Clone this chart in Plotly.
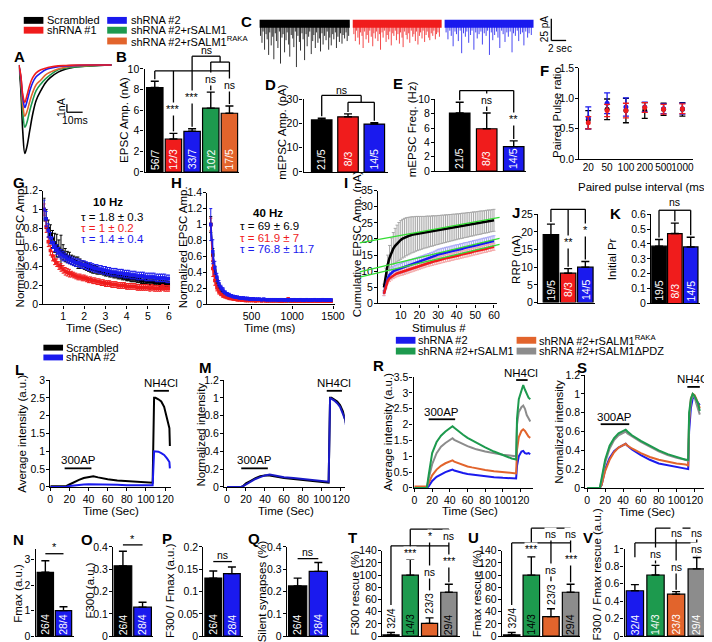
import plotly.graph_objects as go

W, H = 712, 642
FONT = "Liberation Sans, Arial, Helvetica, sans-serif"
BLACK = "#000000"; RED = "#f01c1c"; BLUE = "#1a1aee"; GREEN = "#1d9a4e"; ORANGE = "#e2642c"; GRAY = "#8c8c8c"

# ---------------- DATA ----------------
# A: averaged EPSC traces (ms, nA)
a_time = [0, 1.2, 2.5, 3.8, 5, 7, 8.8, 11, 14, 17, 20, 25, 30, 36, 45, 59]
a_scr = [0, -2.9, -8.5, -11.25, -10.5, -8.25, -6.25, -4.5, -3.25, -2.25, -1.6, -0.9, -0.5, -0.25, -0.1, 0]
a_green = [0, -2.0, -6.0, -7.9, -7.4, -5.75, -4.5, -3.25, -2.4, -1.75, -1.25, -0.6, -0.4, -0.25, -0.1, 0]
a_orange = [0, -1.6, -5.0, -6.5, -6.0, -4.6, -3.5, -2.5, -1.9, -1.25, -0.9, -0.5, -0.25, -0.1, -0.06, 0]
a_blue = [0, -1.4, -4.1, -5.4, -4.75, -3.25, -2.25, -1.5, -1.0, -0.6, -0.4, -0.2, -0.1, -0.06, 0, 0]
a_red = [0, -1.25, -3.75, -4.75, -4.0, -2.5, -1.6, -1.0, -0.6, -0.4, -0.25, -0.1, -0.06, 0, 0, 0]

# B: EPSC amplitude
b_vals = [8.2, 3.2, 3.95, 6.2, 5.7]
b_err = [0.6, 0.55, 0.25, 1.55, 0.7]
b_n = ["56/7", "12/3", "33/7", "10/2", "17/5"]

# C: mEPSC events (s, pA)
c_scr_t = [0.15, 0.35, 0.5, 0.7, 0.9, 1.05, 1.25, 1.4, 1.6, 1.8,
           1.95, 2.15, 2.3, 2.5, 2.7, 2.85, 3.05, 3.2, 3.4, 3.6,
           3.75, 3.95, 4.1, 4.3, 4.5, 4.65, 4.85, 5.0, 5.2, 5.4,
           5.55, 5.75, 5.9, 6.1, 6.3, 6.45, 6.65, 6.8, 7.0, 7.2,
           7.35, 7.55, 7.7, 7.9, 8.1, 8.25, 8.45, 8.6, 8.8, 9.0,
           9.15, 9.35, 9.5, 9.7, 9.9, 10.05, 10.25, 10.4, 10.6, 10.8,
           10.95, 11.15, 11.3, 11.5, 11.7, 11.85, 12.05]
c_scr_a = [-14, -22, -9, -30, -12, -18, -36, -10, -25, -15,
           -41, -11, -20, -28, -9, -46, -16, -12, -33, -19,
           -10, -24, -38, -13, -17, -27, -9, -50, -14, -21,
           -31, -11, -18, -42, -12, -26, -15, -9, -35, -20,
           -13, -28, -10, -22, -17, -32, -11, -24, -14, -19,
           -9, -30, -16, -25, -12, -18, -10, -28, -15, -21,
           -11, -23, -13, -17, -10, -20, -14]
c_sh1_t = [12.75, 12.95, 13.1, 13.3, 13.5, 13.65, 13.85, 14.0, 14.2, 14.4,
           14.55, 14.75, 14.9, 15.1, 15.3, 15.45, 15.65, 15.8, 16.0, 16.2,
           16.35, 16.55, 16.7, 16.9, 17.1, 17.25, 17.45, 17.6, 17.8, 18.0,
           18.15, 18.35, 18.5, 18.7, 18.9, 19.05, 19.25, 19.4, 19.6, 19.8,
           19.95, 20.15, 20.3, 20.5, 20.7, 20.85, 21.05, 21.2, 21.4, 21.6,
           21.75, 21.95, 22.1, 22.3, 22.5, 22.65, 22.85, 23.0, 23.2, 23.4,
           23.55, 23.75, 23.9, 24.1, 24.3]
c_sh1_a = [-12, -20, -8, -16, -24, -10, -14, -28, -9, -18,
           -13, -22, -8, -15, -26, -11, -17, -9, -20, -12,
           -30, -10, -16, -8, -21, -13, -18, -9, -25, -11,
           -14, -8, -19, -12, -23, -10, -16, -27, -9, -13,
           -18, -11, -22, -8, -15, -12, -20, -9, -24, -14,
           -10, -17, -8, -21, -13, -9, -16, -19, -11, -14,
           -8, -18, -12, -10, -15]
c_sh2_t = [25.2, 25.45, 25.7, 25.9, 26.15, 26.4, 26.6, 26.85, 27.1, 27.3,
           27.55, 27.8, 28.0, 28.25, 28.5, 28.7, 28.95, 29.2, 29.4, 29.65,
           29.9, 30.1, 30.35, 30.6, 30.8, 31.05, 31.3, 31.5, 31.75, 32.0,
           32.2, 32.45, 32.7, 32.9, 33.15, 33.4, 33.6, 33.85, 34.1, 34.3,
           34.55, 34.8, 35.0, 35.25, 35.5, 35.7, 35.95, 36.2, 36.4, 36.7]
c_sh2_a = [-10, -18, -8, -14, -26, -9, -12, -20, -8, -34,
           -11, -15, -9, -22, -13, -8, -30, -10, -17, -12,
           -9, -24, -11, -14, -8, -36, -10, -19, -13, -9,
           -16, -28, -8, -12, -21, -10, -15, -9, -33, -11,
           -14, -8, -20, -12, -10, -25, -9, -16, -11, -13]
c_spans = [[0.0, 12.2], [12.6, 24.6], [25.0, 37.0]]

# D, E: mEPSC
d_vals = [21.5, 22.8, 19.8]; d_err = [0.7, 1.2, 0.6]
e_vals = [8.1, 5.9, 3.4]; e_err = [1.5, 2.2, 0.8]
de_n = ["21/5", "8/3", "14/5"]

# F: paired pulse ratio
f_int = ["20", "50", "100", "200", "500", "1000"]
f_scr = [0.65, 0.82, 0.80, 0.80, 0.82, 0.82]; f_scr_err = [0.15, 0.17, 0.20, 0.13, 0.10, 0.11]
f_sh1 = [0.60, 0.80, 0.80, 0.85, 0.82, 0.83]; f_sh1_err = [0.10, 0.10, 0.12, 0.08, 0.08, 0.08]
f_sh2 = [0.68, 0.92, 0.86, 0.86, 0.83, 0.83]; f_sh2_err = [0.18, 0.17, 0.15, 0.08, 0.08, 0.09]

# G: 10 Hz train
g_time = [0.1, 0.2, 0.3, 0.4, 0.5, 0.6, 0.7, 0.8, 0.9, 1.0,
          1.1, 1.2, 1.3, 1.4, 1.5, 1.6, 1.7, 1.8, 1.9, 2.0,
          2.1, 2.2, 2.3, 2.4, 2.5, 2.6, 2.7, 2.8, 2.9, 3.0,
          3.1, 3.2, 3.3, 3.4, 3.5, 3.6, 3.7, 3.8, 3.9, 4.0,
          4.1, 4.2, 4.3, 4.4, 4.5, 4.6, 4.7, 4.8, 4.9, 5.0,
          5.1, 5.2, 5.3, 5.4, 5.5, 5.6, 5.7, 5.8, 5.9, 6.0]
g_scr = [1.00, 0.90, 0.80, 0.74, 0.69, 0.65, 0.62, 0.59, 0.57, 0.55,
         0.52, 0.50, 0.49, 0.47, 0.46, 0.45, 0.44, 0.43, 0.42, 0.41,
         0.40, 0.39, 0.38, 0.37, 0.37, 0.36, 0.35, 0.35, 0.34, 0.33,
         0.33, 0.32, 0.32, 0.31, 0.31, 0.30, 0.30, 0.29, 0.29, 0.28,
         0.28, 0.27, 0.27, 0.27, 0.26, 0.26, 0.25, 0.25, 0.25, 0.24,
         0.24, 0.24, 0.23, 0.23, 0.23, 0.22, 0.22, 0.22, 0.22, 0.21]
g_scr_err = [0.12, 0.10, 0.09, 0.10, 0.09, 0.10, 0.12, 0.09, 0.16, 0.08,
             0.07, 0.06, 0.06, 0.05, 0.05, 0.05, 0.06, 0.05, 0.04, 0.04,
             0.04, 0.04, 0.04, 0.04, 0.04, 0.04, 0.03, 0.03, 0.03, 0.03,
             0.03, 0.03, 0.03, 0.03, 0.03, 0.03, 0.03, 0.03, 0.03, 0.03,
             0.03, 0.03, 0.03, 0.03, 0.03, 0.03, 0.03, 0.03, 0.03, 0.03,
             0.03, 0.03, 0.03, 0.03, 0.03, 0.03, 0.03, 0.03, 0.03, 0.03]
g_sh1 = [1.00, 0.82, 0.66, 0.57, 0.51, 0.47, 0.44, 0.41, 0.39, 0.37,
         0.35, 0.34, 0.33, 0.32, 0.31, 0.30, 0.29, 0.29, 0.28, 0.28,
         0.27, 0.26, 0.26, 0.25, 0.25, 0.24, 0.24, 0.23, 0.23, 0.22,
         0.22, 0.22, 0.21, 0.21, 0.21, 0.20, 0.20, 0.20, 0.20, 0.19,
         0.19, 0.19, 0.19, 0.19, 0.18, 0.18, 0.18, 0.18, 0.18, 0.18,
         0.17, 0.18, 0.17, 0.17, 0.17, 0.17, 0.18, 0.17, 0.17, 0.17]
g_sh1_err = [0.06, 0.06, 0.05, 0.05, 0.05, 0.05, 0.04, 0.04, 0.04, 0.04,
             0.04, 0.04, 0.04, 0.03, 0.03, 0.03, 0.03, 0.03, 0.03, 0.03,
             0.03, 0.03, 0.03, 0.03, 0.03, 0.03, 0.03, 0.03, 0.03, 0.03,
             0.03, 0.03, 0.03, 0.03, 0.03, 0.03, 0.03, 0.03, 0.03, 0.03,
             0.03, 0.03, 0.03, 0.03, 0.03, 0.03, 0.03, 0.03, 0.03, 0.03,
             0.03, 0.03, 0.03, 0.03, 0.03, 0.03, 0.03, 0.03, 0.03, 0.03]
g_sh2 = [1.00, 0.90, 0.78, 0.70, 0.65, 0.61, 0.58, 0.55, 0.53, 0.51,
         0.50, 0.48, 0.47, 0.46, 0.45, 0.44, 0.44, 0.43, 0.42, 0.42,
         0.41, 0.40, 0.40, 0.39, 0.38, 0.38, 0.37, 0.37, 0.36, 0.36,
         0.35, 0.35, 0.34, 0.34, 0.34, 0.33, 0.33, 0.33, 0.32, 0.32,
         0.32, 0.31, 0.31, 0.31, 0.30, 0.30, 0.30, 0.30, 0.29, 0.29,
         0.29, 0.29, 0.29, 0.28, 0.28, 0.28, 0.28, 0.28, 0.27, 0.27]
g_sh2_err = [0.10, 0.08, 0.07, 0.06, 0.06, 0.05, 0.05, 0.05, 0.05, 0.05,
             0.04, 0.04, 0.04, 0.04, 0.04, 0.04, 0.04, 0.04, 0.04, 0.04,
             0.04, 0.04, 0.04, 0.04, 0.04, 0.04, 0.04, 0.04, 0.04, 0.04,
             0.04, 0.04, 0.04, 0.04, 0.04, 0.04, 0.04, 0.04, 0.04, 0.04,
             0.04, 0.04, 0.04, 0.04, 0.04, 0.04, 0.04, 0.04, 0.04, 0.04,
             0.04, 0.04, 0.04, 0.04, 0.04, 0.04, 0.04, 0.04, 0.04, 0.04]

# H: 40 Hz train
h_time = [0, 25, 50, 75, 100, 125, 150, 175, 200, 225,
          250, 275, 300, 325, 350, 375, 400, 425, 450, 475,
          500, 525, 550, 575, 600, 625, 650, 675, 700, 725,
          750, 775, 800, 825, 850, 875, 900, 925, 950, 975,
          1000, 1025, 1050, 1075, 1100, 1125, 1150, 1175, 1200, 1225,
          1250, 1275, 1300, 1325, 1350, 1375, 1400, 1425, 1450, 1475]
h_scr = [1.00, 0.62, 0.42, 0.30, 0.23, 0.18, 0.15, 0.13, 0.11, 0.10,
         0.09, 0.085, 0.08, 0.075, 0.07, 0.07, 0.065, 0.065, 0.06, 0.06,
         0.06, 0.06, 0.055, 0.06, 0.055, 0.055, 0.06, 0.055, 0.055, 0.05,
         0.055, 0.055, 0.05, 0.055, 0.05, 0.05, 0.055, 0.05, 0.05, 0.05,
         0.05, 0.055, 0.05, 0.05, 0.05, 0.05, 0.05, 0.05, 0.045, 0.05,
         0.05, 0.05, 0.045, 0.05, 0.05, 0.045, 0.05, 0.05, 0.045, 0.05]
h_sh1 = [1.00, 0.45, 0.30, 0.21, 0.16, 0.13, 0.11, 0.10, 0.09, 0.08,
         0.075, 0.07, 0.065, 0.06, 0.06, 0.055, 0.055, 0.05, 0.05, 0.05,
         0.05, 0.05, 0.045, 0.05, 0.05, 0.045, 0.05, 0.045, 0.045, 0.05,
         0.045, 0.045, 0.05, 0.045, 0.045, 0.04, 0.045, 0.045, 0.07, 0.045,
         0.045, 0.04, 0.045, 0.045, 0.04, 0.045, 0.04, 0.045, 0.04, 0.045,
         0.04, 0.045, 0.04, 0.04, 0.045, 0.04, 0.04, 0.045, 0.04, 0.04]
h_sh2 = [1.00, 0.66, 0.46, 0.34, 0.26, 0.21, 0.18, 0.15, 0.13, 0.12,
         0.11, 0.10, 0.095, 0.09, 0.085, 0.08, 0.08, 0.075, 0.075, 0.07,
         0.07, 0.07, 0.065, 0.065, 0.065, 0.06, 0.065, 0.06, 0.06, 0.06,
         0.06, 0.06, 0.06, 0.055, 0.06, 0.06, 0.055, 0.06, 0.055, 0.06,
         0.055, 0.06, 0.055, 0.055, 0.06, 0.055, 0.055, 0.06, 0.055, 0.055,
         0.055, 0.06, 0.055, 0.055, 0.055, 0.06, 0.055, 0.055, 0.055, 0.055]
h_err_scr = [0.10, 0.08, 0.06, 0.04, 0.03, 0.03, 0.02, 0.02, 0.02, 0.02] + [0.015] * 50
h_err_sh1 = [0.08, 0.10, 0.06, 0.04, 0.03, 0.02, 0.02, 0.02, 0.02, 0.02] + [0.015] * 50
h_err_sh2 = [0.20, 0.15, 0.08, 0.05, 0.04, 0.03, 0.03, 0.02, 0.02, 0.02] + [0.015] * 50

# I: cumulative EPSC
i_stim = list(range(1, 61))
i_scr = [5.0, 9.0, 12.0, 14.2, 15.8, 17.0, 17.9, 18.6, 19.2, 19.7,
         20.1, 20.4, 20.7, 20.9, 21.1, 21.3, 21.4, 21.6, 21.7, 21.8,
         21.9, 22.0, 22.1, 22.2, 22.3, 22.4, 22.5, 22.6, 22.7, 22.8,
         22.9, 23.0, 23.1, 23.2, 23.3, 23.4, 23.5, 23.6, 23.7, 23.8,
         23.9, 24.0, 24.1, 24.2, 24.3, 24.4, 24.5, 24.6, 24.7, 24.8,
         24.9, 25.0, 25.1, 25.2, 25.3, 25.4, 25.5, 25.6, 25.7, 25.8]
i_scr_err = [1.0, 2.0, 3.0, 3.8, 4.5, 5.0, 5.4, 5.7, 5.9, 6.0,
             6.0, 6.0, 5.9, 5.8, 5.7, 5.6, 5.5, 5.4, 5.3, 5.2,
             5.1, 5.0, 4.9, 4.9, 4.8, 4.7, 4.7, 4.6, 4.5, 4.5,
             4.4, 4.4, 4.3, 4.3, 4.2, 4.2, 4.1, 4.1, 4.0, 4.0,
             3.9, 3.9, 3.9, 3.8, 3.8, 3.8, 3.7, 3.7, 3.7, 3.6,
             3.6, 3.6, 3.6, 3.5, 3.5, 3.5, 3.5, 3.4, 3.4, 3.4]
i_sh1 = [3.0, 5.5, 7.0, 7.8, 8.3, 8.7, 9.0, 9.3, 9.5, 9.7,
         9.9, 10.1, 10.3, 10.5, 10.7, 10.9, 11.1, 11.3, 11.5, 11.7,
         11.9, 12.1, 12.3, 12.5, 12.6, 12.8, 12.9, 13.1, 13.2, 13.4,
         13.5, 13.7, 13.8, 14.0, 14.1, 14.2, 14.4, 14.5, 14.7, 14.8,
         14.9, 15.1, 15.2, 15.4, 15.5, 15.6, 15.8, 15.9, 16.1, 16.2,
         16.3, 16.5, 16.6, 16.8, 16.9, 17.0, 17.2, 17.3, 17.5, 17.6]
i_sh1_err = [0.5, 0.8, 0.9, 1.0, 1.0, 1.0, 1.0, 1.0, 1.0, 1.0] + [1.1] * 50
i_sh2 = [3.0, 6.0, 7.8, 8.9, 9.6, 10.0, 10.3, 10.5, 10.7, 10.9,
         11.1, 11.3, 11.5, 11.7, 11.9, 12.1, 12.3, 12.5, 12.7, 12.9,
         13.1, 13.3, 13.5, 13.7, 13.9, 14.1, 14.3, 14.6, 14.9, 15.2,
         15.3, 15.5, 15.6, 15.8, 15.9, 16.0, 16.2, 16.3, 16.5, 16.6,
         16.7, 16.9, 17.0, 17.2, 17.3, 17.4, 17.6, 17.7, 17.9, 18.0,
         18.1, 18.3, 18.4, 18.6, 18.7, 18.8, 19.0, 19.1, 19.3, 19.4]
i_sh2_err = [0.6, 1.0, 1.2, 1.3, 1.4, 1.4, 1.5, 1.5, 1.5, 1.5] + [1.6] * 50
i_fit_x = [-12, 63]
i_fit_scr = [18.8, 26.7]
i_fit_sh2 = [9.8, 20.2]
i_fit_sh1 = [8.2, 18.3]

# J, K
j_vals = [19.2, 8.3, 10.0]; j_err = [3.0, 1.3, 1.6]
k_vals = [0.385, 0.47, 0.38]; k_err = [0.045, 0.07, 0.065]
jk_n = ["19/5", "8/3", "14/5"]

# L, M: pHluorin traces
lm_time = [0, 5, 10, 15, 17, 20, 25, 30, 35, 40, 45, 50, 55, 60, 70, 80, 90, 100, 107, 108.5, 110, 113, 116, 119, 122, 124.5, 125]
l_scr = [0.02, 0.02, 0.02, 0.02, 0.03, 0.07, 0.14, 0.20, 0.25, 0.28, 0.30, 0.27, 0.24, 0.22, 0.18, 0.16, 0.14, 0.13, 0.12, 2.5, 2.5, 2.46, 2.4, 2.25, 1.95, 1.65, 1.15]
l_sh2 = [0, 0, 0, 0, 0.01, 0.03, 0.05, 0.06, 0.07, 0.08, 0.08, 0.07, 0.07, 0.06, 0.06, 0.05, 0.05, 0.05, 0.05, 1.0, 1.0, 0.99, 0.95, 0.9, 0.8, 0.7, 0.52]
m_scr = [0, 0, 0, 0, 0.01, 0.04, 0.07, 0.10, 0.12, 0.13, 0.13, 0.12, 0.11, 0.10, 0.09, 0.08, 0.07, 0.06, 0.05, 1.0, 1.0, 0.98, 0.96, 0.92, 0.85, 0.75, 0.72]
m_sh2 = [0, 0, 0, 0, 0.01, 0.03, 0.06, 0.09, 0.11, 0.13, 0.14, 0.13, 0.12, 0.11, 0.10, 0.09, 0.08, 0.07, 0.06, 1.0, 0.99, 0.97, 0.94, 0.9, 0.82, 0.75, 0.70]

# R, S
r_time = [0, 5, 10, 14, 16, 18, 20, 25, 30, 35, 40, 43, 45, 50, 55, 60, 65, 70, 80, 90, 100, 110, 115, 116, 118, 121, 123, 125, 127, 129, 131]
r_green = [0, 0, 0, 0, 0.4, 0.8, 1.1, 1.45, 1.65, 1.78, 1.88, 1.95, 1.9, 1.78, 1.68, 1.58, 1.5, 1.42, 1.28, 1.15, 1.03, 0.93, 0.9, 2.2, 2.8, 3.05, 3.25, 3.1, 2.95, 2.85, 2.8]
r_gray = [0, 0, 0, 0, 0.3, 0.5, 0.75, 1.1, 1.3, 1.42, 1.52, 1.57, 1.52, 1.45, 1.38, 1.32, 1.27, 1.22, 1.15, 1.09, 1.05, 1.02, 1.0, 2.0, 2.4, 2.55, 2.6, 2.5, 2.3, 2.2, 2.1]
r_orange = [0.05, 0.05, 0.05, 0.05, 0.15, 0.3, 0.4, 0.58, 0.7, 0.78, 0.85, 0.87, 0.83, 0.78, 0.72, 0.68, 0.65, 0.62, 0.57, 0.53, 0.5, 0.47, 0.46, 1.2, 1.6, 1.8, 1.85, 1.8, 1.7, 1.62, 1.58]
r_blue = [0, 0, 0, 0, 0.05, 0.15, 0.22, 0.35, 0.43, 0.5, 0.55, 0.58, 0.55, 0.5, 0.47, 0.44, 0.42, 0.4, 0.37, 0.34, 0.32, 0.3, 0.3, 0.7, 1.0, 1.15, 1.17, 1.1, 1.08, 1.1, 1.07]
s_time = [0, 5, 10, 14, 16, 18, 20, 25, 30, 35, 40, 43, 45, 50, 60, 70, 80, 90, 100, 110, 113, 114, 116, 118, 120, 122, 124, 126]
s_green = [0, 0, 0, 0, 0.1, 0.2, 0.3, 0.45, 0.53, 0.58, 0.61, 0.62, 0.6, 0.56, 0.5, 0.45, 0.4, 0.36, 0.33, 0.3, 0.3, 0.8, 0.95, 1.0, 0.98, 0.93, 0.9, 0.82]
s_gray = [0, 0, 0, 0, 0.08, 0.17, 0.27, 0.42, 0.51, 0.56, 0.59, 0.6, 0.58, 0.55, 0.49, 0.44, 0.39, 0.35, 0.32, 0.3, 0.29, 0.75, 0.92, 0.98, 0.97, 0.9, 0.85, 0.78]
s_orange = [0, 0, 0, 0, 0.03, 0.1, 0.18, 0.3, 0.38, 0.43, 0.46, 0.47, 0.45, 0.42, 0.37, 0.33, 0.3, 0.28, 0.26, 0.25, 0.24, 0.7, 0.95, 1.0, 0.99, 0.95, 0.9, 0.85]
s_blue = [0, 0, 0, 0, 0.03, 0.1, 0.2, 0.32, 0.39, 0.43, 0.46, 0.47, 0.45, 0.41, 0.35, 0.3, 0.26, 0.24, 0.22, 0.2, 0.2, 0.6, 0.85, 0.95, 0.97, 0.93, 0.9, 0.88]

# N-Q
n_vals = [2.5, 1.0]; n_err = [0.45, 0.15]
o_vals = [0.315, 0.13]; o_err = [0.065, 0.022]
p_vals = [0.13, 0.14]; p_err = [0.016, 0.015]
q_vals = [0.225, 0.29]; q_err = [0.035, 0.04]
nq_n = ["26/4", "28/4"]

# T-V
t_vals = [2, 100, 21, 72]; t_err = [4, 26, 9, 13]
u_vals = [2, 100, 32, 72]; u_err = [4, 30, 13, 13]
v_vals = [0.52, 0.70, 0.48, 0.77]; v_err = [0.07, 0.11, 0.03, 0.13]
tv_n = ["32/4", "14/3", "23/3", "29/4"]

# ---------------- FIGURE HELPERS ----------------
fig = go.Figure()
LAY = {}
SHAPES = []
ANN = []
TICK = 10.5
AX = dict(showgrid=False, zeroline=False, showline=True, linecolor="black", linewidth=1.3,
          ticks="outside", ticklen=3, tickwidth=1.3, tickcolor="black", ticklabelstandoff=-1,
          tickfont=dict(size=TICK, color="black", family=FONT), fixedrange=True)
BARX = dict(ticks="", showticklabels=False)


class Panel:
    count = 0

    def __init__(self, l, r, t, b, xr, yr, xo=None, yo=None, hidden=False):
        Panel.count += 1
        i = Panel.count
        s = "" if i == 1 else str(i)
        self.xa, self.ya = "x" + s, "y" + s
        self.l, self.r, self.t, self.b, self.xr, self.yr = l, r, t, b, xr, yr
        xa = dict(AX, domain=[l / W, r / W], range=xr, anchor=self.ya, tickangle=0)
        ya = dict(AX, domain=[1 - b / H, 1 - t / H], range=yr, anchor=self.xa)
        if xo:
            xa.update(xo)
        if yo:
            ya.update(yo)
        if hidden:
            xa["visible"] = False
            ya["visible"] = False
        LAY["xaxis" + s] = xa
        LAY["yaxis" + s] = ya

    def px(self, v):
        return self.l + (v - self.xr[0]) / (self.xr[1] - self.xr[0]) * (self.r - self.l)

    def py(self, v):
        return self.b - (v - self.yr[0]) / (self.yr[1] - self.yr[0]) * (self.b - self.t)


def line(x0, y0, x1, y1, w=1.3, color="black"):
    SHAPES.append(dict(type="line", xref="paper", yref="paper", x0=x0 / W, y0=1 - y0 / H,
                       x1=x1 / W, y1=1 - y1 / H, line=dict(color=color, width=w)))


def rect(x0, y0, x1, y1, color):
    SHAPES.append(dict(type="rect", xref="paper", yref="paper", x0=x0 / W, y0=1 - y0 / H,
                       x1=x1 / W, y1=1 - y1 / H, fillcolor=color, line=dict(width=0)))


def text(x, y, s, size=11, color="black", angle=0, bold=False, xanchor="center", bg=None):
    if bold:
        s = "<b>" + s + "</b>"
    ANN.append(dict(xref="paper", yref="paper", x=x / W, y=1 - y / H, text=s, showarrow=False,
                    font=dict(size=size, color=color, family=FONT), textangle=angle,
                    xanchor=xanchor, yanchor="middle", bgcolor=bg if bg else "rgba(0,0,0,0)",
                    borderpad=0))


def bars(p, vals, errs, colors, width):
    fig.add_trace(go.Bar(x=list(range(len(vals))), y=vals, width=width,
                         marker=dict(color=colors, line=dict(color="black", width=1.2)),
                         error_y=dict(type="data", array=errs, arrayminus=[0] * len(errs), symmetric=False,
                                      color="black", thickness=1.4, width=4),
                         xaxis=p.xa, yaxis=p.ya, showlegend=False, hoverinfo="skip"))


def nlabels(p, labels, colors, offset=13, size=10.5):
    for i, (lab, c) in enumerate(zip(labels, colors)):
        text(p.px(i), p.py(0) - offset, lab, size=size, color=c, angle=-90)


def etop(p, vals, errs, i):
    return p.py(vals[i] + errs[i])


def sc(p, x, y, color, width=2, mode="lines", **kw):
    fig.add_trace(go.Scatter(x=x, y=y, mode=mode, line=dict(color=color, width=width),
                             xaxis=p.xa, yaxis=p.ya, showlegend=False, hoverinfo="skip", **kw))


def ticks_y(vals, texts=None):
    d = dict(tickmode="array", tickvals=vals)
    if texts:
        d["ticktext"] = texts
    return d


# ---------------- A ----------------
pA = Panel(8, 104, 45, 145, [0, 60], [-11.6, 0.875], hidden=True)
for ys, c in [(a_scr, BLACK), (a_green, GREEN), (a_orange, ORANGE), (a_blue, BLUE), (a_red, RED)]:
    fig.add_trace(go.Scatter(x=a_time, y=ys, mode="lines", line=dict(color=c, width=1.6, shape="spline"),
                             xaxis=pA.xa, yaxis=pA.ya, showlegend=False, hoverinfo="skip"))
line(pA.px(30.6), pA.py(-5), pA.px(30.6), pA.py(-6))
line(pA.px(30.6), pA.py(-6), pA.px(40.6), pA.py(-6))
text(pA.px(26.5), pA.py(-5.4), "1nA", size=10.5, angle=-90)
text(pA.px(35.6), pA.py(-7.0), "10ms", size=10.5)

# ---------------- B ----------------
pB = Panel(136, 232, 56, 161, [-0.55, 4.5], [0, 10], xo=BARX, yo=ticks_y([0, 2, 4, 6, 8, 10]))
B_COL = [BLACK, RED, BLUE, GREEN, ORANGE]
bars(pB, b_vals, b_err, B_COL, 0.88)
nlabels(pB, b_n, ["white"] * 5)
cx = [pB.px(i) for i in range(5)]
line(cx[0], 58, cx[4], 58)
line(cx[0], 58, cx[0], etop(pB, b_vals, b_err, 0) - 2)
line(cx[1], 58, cx[1], etop(pB, b_vals, b_err, 1) - 2)
line(cx[2], 43, cx[2], etop(pB, b_vals, b_err, 2) - 2)
line(cx[3], 49, cx[4], 49)
line(cx[3], 49, cx[3], etop(pB, b_vals, b_err, 3) - 2)
line(cx[4], 49, cx[4], etop(pB, b_vals, b_err, 4) - 2)
mid = (cx[3] + cx[4]) / 2
line(mid, 43, mid, 49)
line(cx[2], 43, mid, 43)
text((cx[2] + mid) / 2, 37, "ns", size=10.5)
text(cx[1], 97, "***", size=11, bg="white")
text(cx[2], 85, "***", size=11, bg="white")
text(cx[3], 66, "ns", size=10.5, bg="white")
text(cx[4], 72, "ns", size=10.5, bg="white")

# ---------------- C ----------------
pC = Panel(253, 533, 2, 62, [0, 37.1], [-59, 9], hidden=True)
for (t, a), span, c in [((c_scr_t, c_scr_a), c_spans[0], BLACK), ((c_sh1_t, c_sh1_a), c_spans[1], RED),
                        ((c_sh2_t, c_sh2_a), c_spans[2], BLUE)]:
    xs, ys = [], []
    for ti, ai in zip(t, a):
        xs += [ti, ti, None]
        ys += [0, ai, None]
    sc(pC, xs, ys, c, width=0.8)
    sc(pC, span, [0, 0], c, width=8)
sbx = pC.px(39.4)
line(sbx, pC.py(5.7), sbx, pC.py(-19.3))
line(sbx, pC.py(-19.3), pC.px(41.4), pC.py(-19.3))
text(sbx - 7, 15, "25 pA", size=10, angle=-90)
text(sbx + 9, 35, "2 sec", size=10)

# ---------------- D ----------------
pD = Panel(298, 384, 87, 161, [-0.69, 2.52], [0, 30], xo=BARX, yo=ticks_y([0, 10, 20, 30]))
bars(pD, d_vals, d_err, [BLACK, RED, BLUE], 0.78)
nlabels(pD, de_n, ["white"] * 3)
dx = [pD.px(i) for i in range(3)]
dm = (dx[1] + dx[2]) / 2
line(dx[0], 83, dm, 83)
line(dx[0], 83, dx[0], etop(pD, d_vals, d_err, 0) - 2)
line(dm, 83, dm, 90)
line(dx[1], 90, dx[2], 90)
line(dx[1], 90, dx[1], etop(pD, d_vals, d_err, 1) - 2)
line(dx[2], 90, dx[2], etop(pD, d_vals, d_err, 2) - 2)
text((dx[0] + dm) / 2, 77, "ns", size=10.5)

# ---------------- E ----------------
pE = Panel(432, 525, 87, 160, [-0.91, 2.47], [0, 10], xo=BARX, yo=ticks_y([0, 2, 4, 6, 8, 10]))
bars(pE, e_vals, e_err, [BLACK, RED, BLUE], 0.76)
nlabels(pE, de_n, ["white"] * 3)
ex = [pE.px(i) for i in range(3)]
line(ex[0], 78, ex[2], 78)
for i in range(3):
    line(ex[i], 78, ex[i], etop(pE, e_vals, e_err, i) - 2)
text(ex[1], 88, "ns", size=10.5, bg="white")
text(ex[2], 107, "**", size=11, bg="white")

# ---------------- F ----------------
pF = Panel(579, 695, 55, 148, [-0.47, 5.58], [0, 1.5],
           xo=dict(ticks="", tickmode="array", tickvals=list(range(6)), ticktext=f_int,
                   tickfont=dict(size=10, color="black", family=FONT)),
           yo=ticks_y([0, 0.5, 1.0, 1.5], ["0.0", "0.5", "1.0", "1.5"]))
for ys, es, c in [(f_scr, f_scr_err, BLACK), (f_sh2, f_sh2_err, BLUE), (f_sh1, f_sh1_err, RED)]:
    fig.add_trace(go.Scatter(x=list(range(6)), y=ys, mode="markers", marker=dict(color=c, size=5),
                             error_y=dict(type="data", array=es, color=c, thickness=1.3, width=3),
                             xaxis=pF.xa, yaxis=pF.ya, showlegend=False, hoverinfo="skip"))

# ---------------- G ----------------
pG = Panel(33, 162, 180, 296, [0.07, 6.05], [0, 1.2],
           xo=ticks_y([1, 2, 3, 4, 5, 6]),
           yo=ticks_y([0, 0.2, 0.4, 0.6, 0.8, 1.0, 1.2], ["0", "0.2", "0.4", "0.6", "0.8", "1", "1.2"]))
for ys, es, c in [(g_scr, g_scr_err, BLACK), (g_sh1, g_sh1_err, RED), (g_sh2, g_sh2_err, BLUE)]:
    fig.add_trace(go.Scatter(x=g_time, y=ys, mode="markers", marker=dict(color=c, size=3.5, symbol="square"),
                             error_y=dict(type="data", array=es, color=c, thickness=1, width=1.5),
                             xaxis=pG.xa, yaxis=pG.ya, showlegend=False, hoverinfo="skip"))
text(99, 192, "10 Hz", size=11.5, bold=True)
text(70, 207, "τ = 1.8 ± 0.3", size=11.5, color=BLACK, xanchor="left")
text(70, 218, "τ = 1 ± 0.2", size=11.5, color=RED, xanchor="left")
text(70, 229, "τ = 1.4 ± 0.4", size=11.5, color=BLUE, xanchor="left")

# ---------------- H ----------------
pH = Panel(200, 330, 182, 296, [-42, 1524], [0, 1.4],
           xo=ticks_y([500, 1000, 1500]),
           yo=ticks_y([0, 0.2, 0.4, 0.6, 0.8, 1.0, 1.2, 1.4], ["0", "0.2", "0.4", "0.6", "0.8", "1", "1.2", "1.4"]))
for ys, es, c in [(h_scr, h_err_scr, BLACK), (h_sh1, h_err_sh1, RED), (h_sh2, h_err_sh2, BLUE)]:
    fig.add_trace(go.Scatter(x=h_time, y=ys, mode="lines+markers", line=dict(color=c, width=1.5),
                             marker=dict(color=c, size=3.5, symbol="square"),
                             error_y=dict(type="data", array=es, color=c, thickness=1, width=1.5),
                             xaxis=pH.xa, yaxis=pH.ya, showlegend=False, hoverinfo="skip"))
text(262, 203, "40 Hz", size=11.5, bold=True)
text(232, 216, "τ = 69 ± 6.9", size=11.5, color=BLACK, xanchor="left")
text(232, 228, "τ = 61.9 ± 7", size=11.5, color=RED, xanchor="left")
text(232, 239, "τ = 76.8 ± 11.7", size=11.5, color=BLUE, xanchor="left")

# ---------------- I ----------------
pI = Panel(374, 495, 180, 295, [-2.1, 61.6], [0, 35],
           xo=ticks_y([10, 20, 30, 40, 50, 60]), yo=ticks_y([0, 5, 10, 15, 20, 25, 30, 35]))
for ys, es, c, ec in [(i_scr, i_scr_err, BLACK, "#a8a8a8"), (i_sh2, i_sh2_err, BLUE, "#a8a8f4"),
                      (i_sh1, i_sh1_err, RED, "#f4a8a8")]:
    fig.add_trace(go.Scatter(x=i_stim, y=ys, mode="markers", marker=dict(color=ec, size=1),
                             error_y=dict(type="data", array=es, color=ec, thickness=1, width=1.5),
                             xaxis=pI.xa, yaxis=pI.ya, showlegend=False, hoverinfo="skip"))
for ys, c in [(i_scr, BLACK), (i_sh2, BLUE), (i_sh1, RED)]:
    sc(pI, i_stim, ys, c, width=2.5)
for fy in [i_fit_scr, i_fit_sh2, i_fit_sh1]:
    line(pI.px(i_fit_x[0]), pI.py(fy[0]), pI.px(i_fit_x[1]), pI.py(fy[1]), w=1.3, color="#33dd33")

# ---------------- J ----------------
pJ = Panel(537, 595, 204, 294, [-0.74, 2.57], [0, 25], xo=BARX, yo=ticks_y([0, 5, 10, 15, 20, 25]))
bars(pJ, j_vals, j_err, [BLACK, RED, BLUE], 0.9)
nlabels(pJ, jk_n, ["white"] * 3)
jx = [pJ.px(i) for i in range(3)]
line(jx[0], 199, jx[2], 199)
for i in range(3):
    line(jx[i], 199, jx[i], etop(pJ, j_vals, j_err, i) - 2)
text(jx[1], 232, "**", size=11, bg="white")
text(jx[2], 220, "*", size=11, bg="white")

# ---------------- K ----------------
pK = Panel(652, 702, 204, 295, [-0.5, 2.6], [0, 0.6], xo=BARX,
           yo=ticks_y([0, 0.1, 0.2, 0.3, 0.4, 0.5, 0.6], ["0", "0.1", "0.2", "0.3", "0.4", "0.5", "0.6"]))
bars(pK, k_vals, k_err, [BLACK, RED, BLUE], 0.92)
nlabels(pK, jk_n, ["white"] * 3)
kx = [pK.px(i) for i in range(3)]
line(kx[0], 200, kx[2], 200)
for i in range(3):
    line(kx[i], 200, kx[i], etop(pK, k_vals, k_err, i) - 2)
text(kx[1], 192, "ns", size=10.5)

# ---------------- L ----------------
XT = ticks_y([0, 20, 40, 60, 80, 100, 120])
pL = Panel(40, 163, 373, 482, [0, 126.2], [0, 3], xo=XT,
           yo=ticks_y([0, 0.5, 1, 1.5, 2, 2.5, 3], ["0", "0.5", "1", "1.5", "2", "2.5", "3"]))
sc(pL, lm_time, l_scr, BLACK, width=2)
sc(pL, lm_time, l_sh2, BLUE, width=2)
line(pL.px(15), 463, pL.px(43), 463, w=1.8)
text(pL.px(29), 455, "300AP", size=11.5)
line(pL.px(108), 384, pL.px(124), 384, w=1.8)
text(pL.px(116), 376, "NH4Cl", size=11.5)

# ---------------- M ----------------
pM = Panel(217, 340, 373, 482, [-3.1, 124], [0, 1.2], xo=XT,
           yo=ticks_y([0, 0.2, 0.4, 0.6, 0.8, 1.0, 1.2], ["0", "0.2", "0.4", "0.6", "0.8", "1", "1.2"]))
sc(pM, lm_time, m_scr, BLACK, width=2)
sc(pM, lm_time, m_sh2, "#1a1ac8", width=2)
line(pM.px(15), 463, pM.px(43), 463, w=1.8)
text(pM.px(29), 455, "300AP", size=11.5)
line(pM.px(105), 384, pM.px(121), 384, w=1.8)
text(pM.px(113), 376, "NH4Cl", size=11.5)

# ---------------- R ----------------
pR = Panel(410, 532, 370, 483, [-1.1, 134.4], [0, 3.5], xo=XT,
           yo=ticks_y([0, 0.5, 1, 1.5, 2, 2.5, 3, 3.5], ["0", "0.5", "1", "1.5", "2", "2.5", "3", "3.5"]))
for ys, c in [(r_blue, BLUE), (r_orange, ORANGE), (r_gray, GRAY), (r_green, GREEN)]:
    sc(pR, r_time, ys, c, width=2)
line(pR.px(16), 413, pR.px(46), 413, w=1.8)
text(pR.px(31), 406, "300AP", size=11.5)
line(pR.px(115), 373, pR.px(128), 373, w=1.8)
text(pR.px(121), 366, "NH4Cl", size=11.5)

# ---------------- S ----------------
pS = Panel(585, 706, 368, 483, [-2.2, 130.8], [0, 1.2], xo=XT,
           yo=ticks_y([0, 0.2, 0.4, 0.6, 0.8, 1.0, 1.2], ["0", "0.2", "0.4", "0.6", "0.8", "1", "1.2"]))
for ys, c in [(s_blue, BLUE), (s_orange, ORANGE), (s_gray, GRAY), (s_green, GREEN)]:
    sc(pS, s_time, ys, c, width=2)
line(pS.px(15), 418, pS.px(47), 418, w=1.8)
text(pS.px(31), 411, "300AP", size=11.5)
line(pS.px(112), 380, pS.px(126), 380, w=1.8)
text(pS.px(119), 372, "NH4Cl", size=11.5)

# ---------------- N-Q ----------------
pN = Panel(25, 64, 545, 634, [-0.54, 1.57], [0, 3.42], xo=BARX, yo=ticks_y([0, 1, 2, 3]))
bars(pN, n_vals, n_err, [BLACK, BLUE], 0.9)
nlabels(pN, nq_n, ["white"] * 2, offset=12)
line(pN.px(0), 550, pN.px(1), 550)
text((pN.px(0) + pN.px(1)) / 2, 543, "*", size=11)

pO = Panel(104, 145, 543, 634, [-0.5, 1.55], [0, 0.4], xo=BARX,
           yo=ticks_y([0, 0.1, 0.2, 0.3, 0.4], ["0", "0.1", "0.2", "0.3", "0.4"]))
bars(pO, o_vals, o_err, [BLACK, BLUE], 0.9)
nlabels(pO, nq_n, ["white"] * 2, offset=12)
line(pO.px(0), 541, pO.px(1), 541)
text((pO.px(0) + pO.px(1)) / 2, 535, "*", size=11)

pP = Panel(196, 236, 543, 634, [-0.53, 1.58], [0, 0.2], xo=BARX,
           yo=ticks_y([0, 0.05, 0.1, 0.15, 0.2], ["0", "0.05", "0.1", "0.15", "0.2"]))
bars(pP, p_vals, p_err, [BLACK, BLUE], 0.9)
nlabels(pP, nq_n, ["white"] * 2, offset=12)
line(pP.px(0), 558, pP.px(1), 558)
text((pP.px(0) + pP.px(1)) / 2, 551, "ns", size=10.5)

pQ = Panel(281, 324, 543, 634, [-0.52, 1.52], [0, 0.4], xo=BARX,
           yo=ticks_y([0, 0.1, 0.2, 0.3, 0.4], ["0", "0.1", "0.2", "0.3", "0.4"]))
bars(pQ, q_vals, q_err, [BLACK, BLUE], 0.88)
nlabels(pQ, nq_n, ["white"] * 2, offset=12)
line(pQ.px(0), 555, pQ.px(1), 555)
text((pQ.px(0) + pQ.px(1)) / 2, 548, "ns", size=10.5)

# ---------------- T, U, V ----------------
TV_COL = [BLUE, GREEN, ORANGE, GRAY]
PCT = ticks_y([0, 20, 40, 60, 80, 100, 120, 140])


def rescue_panel(p, vals, errs, sig_main, sig_top, lab_pos, lab_col):
    bars(p, vals, errs, TV_COL, 0.84)
    xs = [p.px(i) for i in range(4)]
    tops = [etop(p, vals, errs, i) for i in range(4)]
    for i in range(4):
        if lab_pos[i] == "in":
            text(xs[i], p.py(0) - 12, tv_n[i], size=10.5, color=lab_col[i], angle=-90)
        else:
            text(xs[i], tops[i] - 15, tv_n[i], size=10.5, color=lab_col[i], angle=-90)
    y1, y2 = sig_main[0], sig_top[0]
    line(xs[0], y1, xs[3], y1)
    line(xs[1], y2, xs[3], y2)
    line(xs[1], y2, xs[1], y1)
    for i in range(4):
        ystart = y2 if i >= 2 else y1
        yend = tops[i] - 2 if lab_pos[i] == "in" else tops[i] - 28
        if i == 0:
            yend = tops[i] - 28
        line(xs[i], ystart, xs[i], yend)
    for i, (s, yy) in enumerate(sig_main[1]):
        if s:
            text(xs[i], yy, s, size=10.5, bg="white")
    for i, (s, yy) in enumerate(sig_top[1]):
        if s:
            text(xs[i], yy, s, size=10.5, bg="white")


pT = Panel(378, 457, 547, 634, [-0.46, 3.56], [0, 140], xo=BARX, yo=PCT)
rescue_panel(pT, t_vals, t_err,
             (542, [(None, 0), ("***", 549), ("ns", 569), ("***", 557)]),
             (525, [(None, 0), (None, 0), ("*", 532), ("ns", 532)]),
             ["out", "in", "out", "in"], [BLACK, BLACK, BLACK, BLACK])

pU = Panel(500, 580, 547, 634, [-0.5, 3.5], [0, 140], xo=BARX, yo=PCT)
rescue_panel(pU, u_vals, u_err,
             (539, [(None, 0), ("***", 545), ("ns", 567), ("***", 555)]),
             (524, [(None, 0), (None, 0), ("ns", 530), ("ns", 530)]),
             ["out", "in", "out", "in"], [BLACK, BLACK, BLACK, BLACK])

pV = Panel(625, 709, 545, 634, [-0.5, 3.5], [0, 1.0], xo=BARX,
           yo=ticks_y([0, 0.2, 0.4, 0.6, 0.8, 1.0], ["0", "0.2", "0.4", "0.6", "0.8", "1"]))
rescue_panel(pV, v_vals, v_err,
             (539, [(None, 0), ("ns", 550), ("ns", 564), ("ns", 545)]),
             (524, [(None, 0), (None, 0), ("ns", 529), ("ns", 529)]),
             ["in", "in", "in", "in"], ["white", "white", "white", "white"])

# ---------------- LEGENDS ----------------
LEG = 11
rect(13, 3, 33, 10, BLACK); text(36, 6.5, "Scrambled", size=LEG, xanchor="left")
rect(13, 13, 33, 20, RED); text(36, 16.5, "shRNA #1", size=LEG, xanchor="left")
rect(98, 3, 118, 10, BLUE); text(121, 6.5, "shRNA #2", size=LEG, xanchor="left")
rect(98, 13, 118, 20, GREEN); text(121, 16.5, "shRNA #2+rSALM1", size=LEG, xanchor="left")
rect(98, 24, 118, 31, ORANGE); text(121, 27.5, "shRNA #2+rSALM1<sup>RAKA</sup>", size=LEG, xanchor="left")

rect(33, 337, 53, 343, BLACK); text(55, 340, "Scrambled", size=LEG, xanchor="left")
rect(33, 347, 53, 353, BLUE); text(55, 350, "shRNA #2", size=LEG, xanchor="left")

rect(392, 329, 412, 336, BLUE); text(414, 332, "shRNA #2", size=LEG, xanchor="left")
rect(392, 340, 412, 347, GREEN); text(414, 343, "shRNA #2+rSALM1", size=LEG, xanchor="left")
rect(515, 329, 535, 336, ORANGE); text(537, 332, "shRNA #2+rSALM1<sup>RAKA</sup>", size=LEG, xanchor="left")
rect(515, 340, 535, 347, GRAY); text(537, 343, "shRNA #2+rSALM1ΔPDZ", size=LEG, xanchor="left")

# ---------------- PANEL LETTERS ----------------
for lt, x, y in [("A", 9, 43), ("B", 113, 43), ("C", 240, 8), ("D", 264, 72), ("E", 394, 71),
                 ("F", 543, 58), ("G", 8, 172), ("H", 169, 172), ("I", 341, 172), ("J", 514, 202),
                 ("K", 616, 203), ("L", 9, 362), ("M", 198, 360), ("R", 374, 358), ("S", 582, 360),
                 ("N", 8, 535), ("O", 77, 535), ("P", 159, 534), ("Q", 248, 534), ("T", 348, 533),
                 ("U", 471, 533), ("V", 588, 533)]:
    text(x, y, lt, size=15, bold=True)

# ---------------- AXIS TITLES ----------------
TT = 11.5
for s, x, y in [("EPSC Amp. (nA)", 115, 108), ("mEPSC Amp. (pA)", 276, 120), ("mEPSC Freq. (Hz)", 408, 118),
                ("Paired Pulse ratio", 556, 100), ("Normalized EPSC Amp.", 9, 237),
                ("Normalized EPSC Amp.", 175, 238), ("Cumulative EPSC Amp. (nA)", 352, 234),
                ("RRP (nA)", 515, 250), ("Initial Pr", 613, 250), ("Average intensity (a.u.)", 11, 428),
                ("Normalized intensity", 194, 428), ("Average intensity (a.u.)", 384, 426),
                ("Normalized intensity", 558, 426), ("Fmax (a.u.)", 7, 590), ("F300 (a.u.)", 80, 588),
                ("F300 / Fmax (a.u.)", 162, 588), ("Silent synapses (%)", 256, 588),
                ("F300 rescue (%)", 350, 590), ("Fmax rescue (%)", 475, 590),
                ("F300 / Fmax rescue (a.u.)", 597, 571)]:
    text(x, y, s, size=TT, angle=-90)
for s, x, y in [("Paired pulse interval (ms)", 644, 176), ("Time (Sec)", 85, 320), ("Time (ms)", 263, 320),
                ("Stimulus #", 436, 320), ("Time (Sec)", 102, 506), ("Time (Sec)", 280, 506),
                ("Time (Sec)", 468, 506), ("Time (Sec)", 648, 507)]:
    text(x, y, s, size=TT)

fig.update_layout(width=W, height=H, margin=dict(l=0, r=0, t=0, b=0), paper_bgcolor="white",
                  plot_bgcolor="rgba(0,0,0,0)", showlegend=False, shapes=SHAPES, annotations=ANN,
                  font=dict(family=FONT, color="black"), **LAY)
fig.write_html("out.html")
